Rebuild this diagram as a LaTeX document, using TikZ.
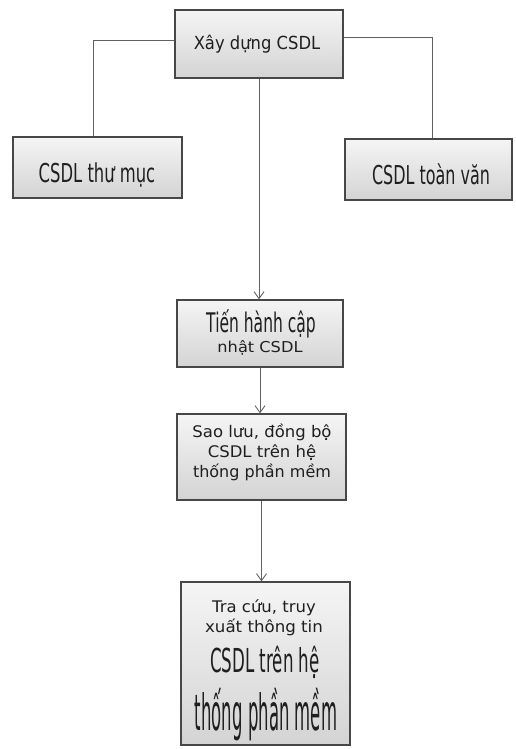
\documentclass[tikz,border=0pt]{standalone}
\usepackage{fontspec}
\setmainfont{DejaVu Sans}
\usetikzlibrary{arrows.meta,shadows}
\newcommand\sqz[3]{\scalebox{#1}[1]{\fontsize{#2}{#2}\selectfont #3}}
\begin{document}
\begin{tikzpicture}[x=1pt,y=-1pt,
  box/.style={draw=black!72, line width=1.2pt, top color=black!4, bottom color=black!17, inner sep=0pt,
    drop shadow={shadow xshift=1pt, shadow yshift=-1.2pt, fill=black!55, opacity=0.8}},
  txt/.style={anchor=base, inner sep=0pt, text=black!88},
  link/.style={draw=black!62, line width=0.9pt},
  arr/.style={link, -{Straight Barb[length=7pt,width=10pt]}}]
\useasboundingbox (0,0) rectangle (515,749);
% boxes
\node[box, minimum width=168, minimum height=68] (top) at (259,44) {};
\node[box, minimum width=169, minimum height=61] (left) at (97.5,167.5) {};
\node[box, minimum width=167, minimum height=61] (right) at (428.5,169.5) {};
\node[box, minimum width=166, minimum height=67] (tien) at (260,333.5) {};
\node[box, minimum width=169, minimum height=86] (sao) at (261.5,457) {};
\node[box, minimum width=169, minimum height=163] (tra) at (265.5,663.5) {};
% texts
\node[txt] (t1) at (257,50) {\sqz{0.91}{18}{Xây dựng CSDL}};
\node[txt] (l1) at (97,182) {\sqz{0.63}{26}{CSDL thư mục}};
\node[txt] (r1) at (431,184) {\sqz{0.614}{26}{CSDL toàn văn}};
\node[txt] (n1) at (261,332) {\sqz{0.575}{27}{Tiến hành cập}};
\node[txt] (n2) at (260,352) {\sqz{1.08}{15}{nhật CSDL}};
\node[txt] (s1) at (262,437) {\sqz{1.03}{16}{Sao lưu, đồng bộ}};
\node[txt] (s2) at (262,457) {\sqz{1.03}{16}{CSDL trên hệ}};
\node[txt] (s3) at (262,477) {\sqz{1.0}{16}{thống phần mềm}};
\node[txt] (a1) at (264,612) {\sqz{1.03}{16}{Tra cứu, truy}};
\node[txt] (a2) at (264,632) {\sqz{1.04}{16}{xuất thông tin}};
\node[txt] (a3) at (265,672) {\sqz{0.505}{33}{CSDL trên hệ}};
\node[txt] (a4) at (266,730) {\sqz{0.33}{50}{thống phần mềm}};
% connectors
\draw[link] ([yshift=4pt]top.west) -| ([xshift=-4.5pt]left.north);
\draw[link] ([yshift=7pt]top.east) -| ([xshift=3.5pt]right.north);
\draw[arr] (top.south) -- (top.south |- tien.north);
\draw[arr] (tien.south) -- (tien.south |- sao.north);
\draw[arr] (sao.south) -- (sao.south |- tra.north);
\end{tikzpicture}
\end{document}
